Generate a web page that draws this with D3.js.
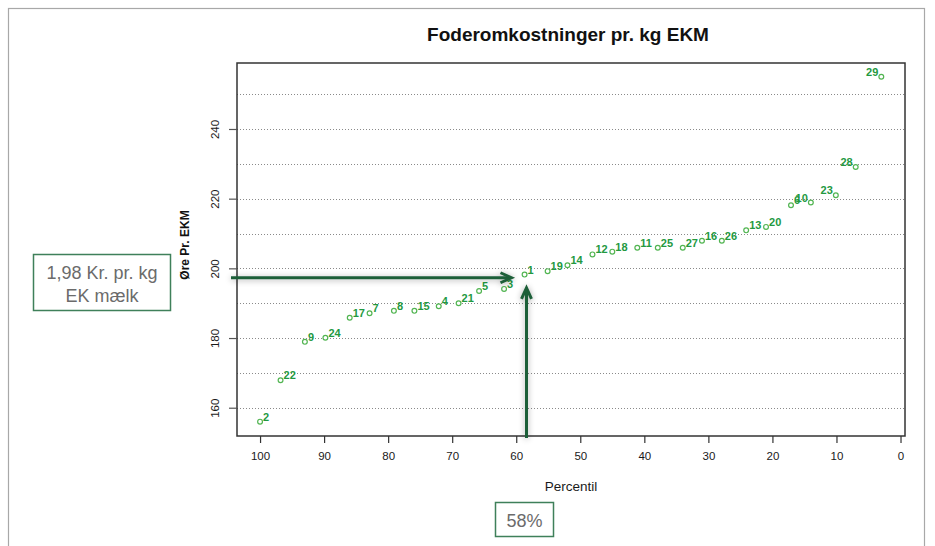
<!DOCTYPE html>
<html lang="da">
<head>
<meta charset="utf-8">
<title>Foderomkostninger pr. kg EKM</title>
<script src="https://d3js.org/d3.v7.min.js"></script>
<style>
  body { margin: 0; background: #fff; }
  svg text { font-family: "Liberation Sans", Arial, sans-serif; }
  .grid line { stroke: #8a8a8a; stroke-width: 1; stroke-dasharray: 1,2; }
  .axis path { display: none; }
  .axis line { stroke: #333; stroke-width: 1.2; }
  .axis text { font-size: 11.5px; fill: #1a1a1a; }
  .herd circle { fill: #fff; stroke: #52b552; stroke-width: 1.2; }
  .herd text { font-size: 11px; font-weight: bold; fill: #23993f; }
  .note rect { fill: #fff; stroke: #3f805a; stroke-width: 1.5; }
  .note text { font-size: 18px; fill: #6b6b6b; text-anchor: middle; }
</style>
</head>
<body>
<svg width="935" height="546"></svg>
<script>
    // herd numbers, their percentile and feed cost (øre per kg EKM)
    var herd       = ["2", "22", "9", "24", "17", "7", "8", "15", "4", "21", "5", "3", "1", "19", "14",
                      "12", "18", "11", "25", "27", "16", "26", "13", "20", "6", "10", "23", "28", "29"];
    var percentile = [100, 96.8, 93.0, 89.8, 86.0, 82.9, 79.1, 75.9, 72.1, 69.0, 65.8, 61.9, 58.7, 55.1, 52.0,
                      48.1, 45.0, 41.1, 37.9, 34.0, 31.0, 27.9, 24.1, 21.0, 17.1, 14.0, 10.1, 7.0, 3.0];
    var cost       = [156.0, 167.9, 178.9, 180.1, 185.8, 187.1, 187.8, 187.8, 189.1, 190.0, 193.5, 194.1, 198.2, 199.2, 200.9,
                      204.0, 204.8, 205.9, 205.9, 205.9, 207.9, 207.9, 210.9, 211.9, 218.1, 218.9, 221.0, 229.1, 255.0];

    var xTicks = [100, 90, 80, 70, 60, 50, 40, 30, 20, 10, 0];
    var yTicks = [160, 180, 200, 220, 240];
    var gridLevels = [160, 170, 180, 190, 200, 210, 220, 230, 240, 250];

    // the marked herd: 58 % / 1,98 kr
    var markPercentile = 58.4, markCost = 197.3;
    var markText = ["1,98 Kr. pr. kg", "EK mælk"];
    var markPctText = "58%";

    var svg = d3.select("svg");

    var plot = {left: 237, right: 905, top: 63, bottom: 436};

    var x = d3.scaleLinear().domain([103.6, -0.7]).range([plot.left, plot.right]);
    var y = d3.scaleLinear().domain([151.88, 258.94]).range([plot.bottom, plot.top]);

    var defs = svg.append("defs");
    var shadow = defs.append("filter").attr("id", "shadow")
        .attr("x", "-50%").attr("y", "-50%").attr("width", "200%").attr("height", "200%");
    shadow.append("feGaussianBlur").attr("in", "SourceAlpha").attr("stdDeviation", 3).attr("result", "b");
    shadow.append("feOffset").attr("in", "b").attr("dx", 0).attr("dy", 1).attr("result", "o");
    shadow.append("feComponentTransfer").attr("in", "o").attr("result", "s")
        .append("feFuncA").attr("type", "linear").attr("slope", 0.35);
    var merge = shadow.append("feMerge");
    merge.append("feMergeNode").attr("in", "s");
    merge.append("feMergeNode").attr("in", "SourceGraphic");

    // outer frame
    svg.append("rect")
        .attr("x", 8.5).attr("y", 8.5).attr("width", 916).attr("height", 560)
        .attr("fill", "none").attr("stroke", "#a8a8a8").attr("stroke-width", 1.2);

    svg.append("text")
        .attr("x", 568).attr("y", 41)
        .attr("text-anchor", "middle")
        .style("font-size", "19px").style("font-weight", "bold").style("fill", "#111")
        .text("Foderomkostninger pr. kg EKM");

    svg.append("g").attr("class", "grid")
        .selectAll("line").data(gridLevels).enter().append("line")
        .attr("x1", plot.left).attr("x2", plot.right)
        .attr("y1", function(d) { return Math.round(y(d)) + 0.5; })
        .attr("y2", function(d) { return Math.round(y(d)) + 0.5; });

    svg.append("rect")
        .attr("x", plot.left).attr("y", plot.top)
        .attr("width", plot.right - plot.left).attr("height", plot.bottom - plot.top)
        .attr("fill", "none").attr("stroke", "#333").attr("stroke-width", 1.5);

    var xAxis = svg.append("g").attr("class", "axis")
        .attr("transform", "translate(0," + plot.bottom + ")")
        .call(d3.axisBottom(x).tickValues(xTicks).tickSize(7).tickPadding(9));

    var yAxis = svg.append("g").attr("class", "axis")
        .attr("transform", "translate(" + plot.left + ",0)")
        .call(d3.axisLeft(y).tickValues(yTicks).tickSize(8));
    yAxis.selectAll("line").style("stroke", "#555");
    yAxis.selectAll("text")
        .attr("x", 0).attr("y", 0).attr("dy", "0.35em")
        .attr("text-anchor", "middle")
        .attr("transform", "translate(-22,0) rotate(-90)");

    svg.append("text")
        .attr("transform", "translate(189,245) rotate(-90)")
        .attr("text-anchor", "middle")
        .style("font-size", "12px").style("font-weight", "bold").style("fill", "#111")
        .text("Øre Pr. EKM");

    svg.append("text")
        .attr("x", 571).attr("y", 491)
        .attr("text-anchor", "middle")
        .style("font-size", "13.5px").style("fill", "#1a1a1a")
        .text("Percentil");

    // herds
    var points = herd.map(function(h, i) { return {id: h, pct: percentile[i], cost: cost[i]}; });
    var g = svg.append("g").attr("class", "herd");
    g.selectAll("circle").data(points).enter().append("circle")
        .attr("cx", function(d) { return x(d.pct); })
        .attr("cy", function(d) { return y(d.cost); })
        .attr("r", 2.4);
    g.selectAll("text").data(points).enter().append("text")
        .attr("x", function(d) { return d.pct < 15 ? x(d.pct) - 3 : x(d.pct) + 3; })
        .attr("y", function(d) { return y(d.cost) - 1; })
        .attr("text-anchor", function(d) { return d.pct < 15 ? "end" : "start"; })
        .text(function(d) { return d.id; });

    // arrows
    var mx = x(markPercentile), my = y(markCost);
    var arrows = svg.append("g").attr("filter", "url(#shadow)")
        .attr("fill", "none").attr("stroke", "#1d5e38").attr("stroke-width", 3)
        .attr("stroke-linecap", "butt");
    var hx0 = plot.left - 6, hx1 = mx - 15;
    arrows.append("line").attr("x1", hx0).attr("y1", my).attr("x2", hx1 - 1).attr("y2", my);
    arrows.append("path").attr("stroke-linejoin", "miter")
        .attr("d", "M" + (hx1 - 11) + "," + (my - 5) + "L" + hx1 + "," + my + "L" + (hx1 - 11) + "," + (my + 5));
    var vy0 = plot.bottom + 2, vy1 = my + 10;
    arrows.append("line").attr("x1", mx).attr("y1", vy0).attr("x2", mx).attr("y2", vy1 + 1);
    arrows.append("path").attr("stroke-linejoin", "miter")
        .attr("d", "M" + (mx - 5) + "," + (vy1 + 11) + "L" + mx + "," + vy1 + "L" + (mx + 5) + "," + (vy1 + 11));

    // text boxes
    var leftBox = svg.append("g").attr("class", "note");
    leftBox.append("rect").attr("x", 33.5).attr("y", 254.5).attr("width", 137).attr("height", 56);
    leftBox.selectAll("text").data(markText).enter().append("text")
        .attr("x", 102)
        .attr("y", function(d, i) { return 278.5 + i * 23; })
        .text(function(d) { return d; });

    var pctBox = svg.append("g").attr("class", "note");
    pctBox.append("rect").attr("x", 495.5).attr("y", 502.5).attr("width", 58).attr("height", 34);
    pctBox.append("text").attr("x", 524.5).attr("y", 526.5).text(markPctText);
</script>
</body>
</html>
